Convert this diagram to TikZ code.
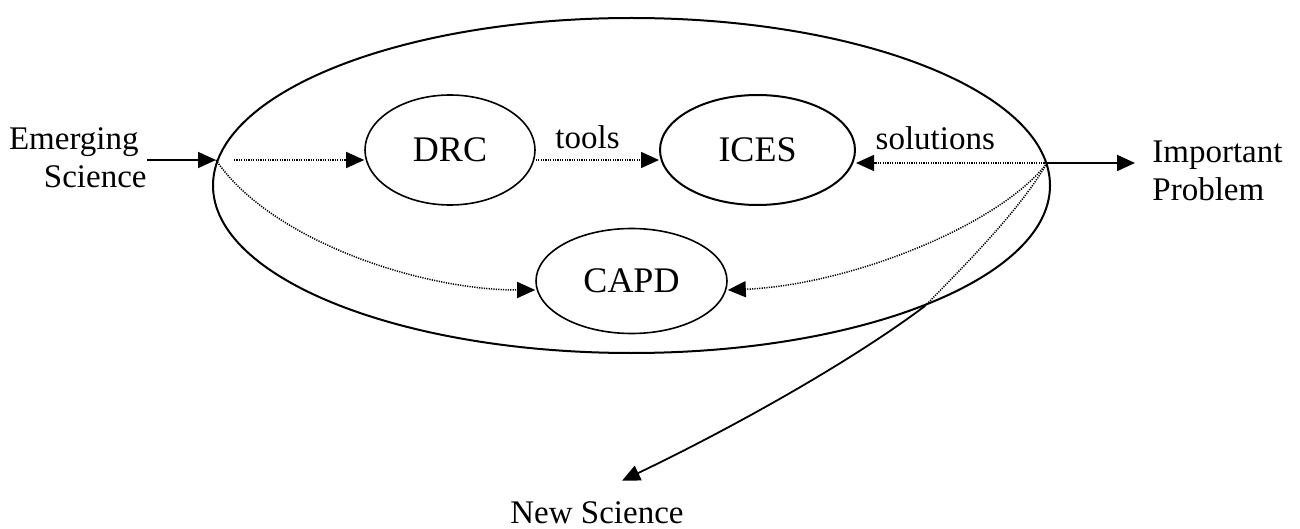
\documentclass[tikz,border=0pt]{standalone}
\usepackage{fontspec}
\setmainfont{Liberation Serif}
\usetikzlibrary{shapes.geometric,arrows.meta}
\begin{document}
\begin{tikzpicture}[x=0.5pt,y=-0.5pt,
  oval/.style={draw,ellipse,inner sep=0pt,line width=0.8pt,font=\fontsize{18}{21}\selectfont},
  lbl/.style={inner sep=0pt,font=\fontsize{16.5}{19}\selectfont},
  arr/.style={line width=0.9pt,-{Triangle[length=9pt,width=8pt]}},
  dot/.style={line width=0.75pt,dash pattern=on 0.6pt off 0.6pt,-{Triangle[length=9pt,width=8pt]}},
  dotn/.style={line width=0.75pt,dash pattern=on 0.6pt off 0.6pt}]
\useasboundingbox (0,0) rectangle (1300,529);

\node[draw,ellipse,line width=1pt,minimum width=418.5pt,minimum height=167.5pt,inner sep=0pt] (hub) at (631.5,185.5) {};

\node[oval,minimum width=85pt,minimum height=55pt] (drc) at (450,150) {\raisebox{-2.5pt}{DRC}};
\node[oval,minimum width=97.5pt,minimum height=55pt,line width=1pt] (ices) at (757.5,150) {ICES};
\node[oval,minimum width=95.5pt,minimum height=52.5pt] (capd) at (631.5,281) {CAPD};

\node[lbl,align=right,anchor=east] (emerg) at (147,158) {Emerging\kern4pt\\Science};
\node[lbl,align=left,anchor=west] (imp) at (1152,171) {Important\\Problem};
\node[lbl,anchor=base] (news) at (597,523) {New Science};

\coordinate (inL) at (216,160);
\coordinate (outR) at (1047,163);
\coordinate (cross) at (925,306);

\draw[arr] (emerg.east |- inL) -- (inL);
\draw[dot] ([xshift=9pt]inL) -- (drc.west |- inL);
\draw[dot] (drc.east |- inL) -- node[lbl,above=5pt,pos=0.42]{tools} (ices.west |- inL);
\draw[dot] (outR) -- node[lbl,above=6pt,pos=0.585]{solutions} (ices.east |- outR);
\draw[arr,shorten >=8.5pt] (outR) -- (imp.west |- outR);

\draw[dot] (inL) .. controls (270,240) and (420,290) .. ([yshift=-4.5pt]capd.west);
\draw[dot] (outR) .. controls (1000,225) and (850,285) .. ([yshift=-4.5pt]capd.east);
\draw[dotn] (outR) .. controls (1020,210) and (965,265) .. (cross);
\draw[arr] (cross) .. controls (845,366) and (722,433) .. ([shift={(12.5pt,10pt)}]news.north);
\end{tikzpicture}
\end{document}
